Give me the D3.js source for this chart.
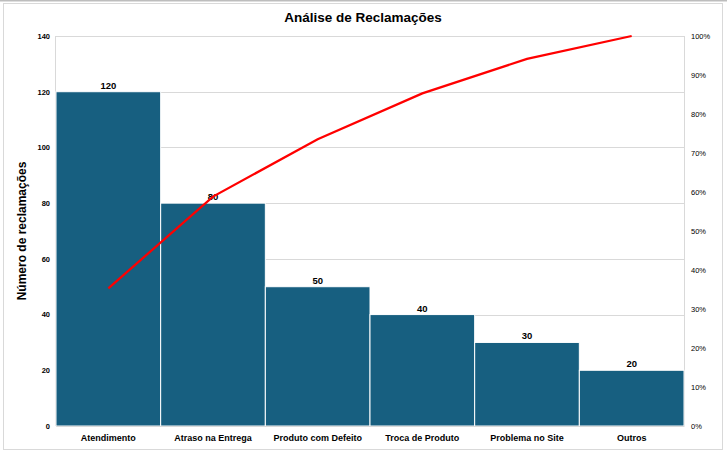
<!DOCTYPE html>
<html>
<head>
<meta charset="utf-8">
<script src="https://cdn.jsdelivr.net/npm/d3@7"></script>
<style>
  body { margin: 0; background: #fff; }
  text { font-family: "Liberation Sans", Arial, sans-serif; fill: #000; }
</style>
</head>
<body>
<div id="chart"></div>
<script>
// dados do gráfico de Pareto
const categories = ['Atendimento', 'Atraso na Entrega', 'Produto com Defeito', 'Troca de Produto', 'Problema no Site', 'Outros'];
const counts = [120, 80, 50, 40, 30, 20];
const leftTicks = [0, 20, 40, 60, 80, 100, 120, 140];
const rightTicks = [0, 0.1, 0.2, 0.3, 0.4, 0.5, 0.6, 0.7, 0.8, 0.9, 1];

const width = 727, height = 455;
const margin = { top: 36, right: 43, bottom: 29, left: 56 };

const total = d3.sum(counts);
const cumulative = d3.cumsum(counts).map(v => v / total);

const svg = d3.select('#chart').append('svg')
              .attr('width', width)
              .attr('height', height);

// moldura
svg.append('rect')
   .attr('x', 3.5).attr('y', 3.5)
   .attr('width', 719).attr('height', 446)
   .attr('fill', 'none').attr('stroke', '#d9d9d9');
svg.append('line')
   .attr('x1', 0).attr('x2', width).attr('y1', 0.5).attr('y2', 0.5)
   .attr('stroke', '#bdbdbd').attr('stroke-width', 2);

const x = d3.scaleBand()
            .domain(categories)
            .range([margin.left, width - margin.right])
            .padding(0);

const y = d3.scaleLinear().domain([0, 140]).range([height - margin.bottom, margin.top]);
const yPct = d3.scaleLinear().domain([0, 1]).range([height - margin.bottom, margin.top]);

// linhas de grade
svg.append('g')
   .selectAll('line')
   .data(leftTicks)
   .enter()
   .append('line')
   .attr('x1', margin.left).attr('x2', width - margin.right)
   .attr('y1', d => Math.round(y(d)) + 0.5).attr('y2', d => Math.round(y(d)) + 0.5)
   .attr('stroke', '#d9d9d9');

svg.append('line')
   .attr('x1', width - margin.right + 0.5).attr('x2', width - margin.right + 0.5)
   .attr('y1', margin.top).attr('y2', height - margin.bottom)
   .attr('stroke', '#d9d9d9');
svg.append('line')
   .attr('x1', margin.left - 0.5).attr('x2', margin.left - 0.5)
   .attr('y1', margin.top).attr('y2', height - margin.bottom)
   .attr('stroke', '#d9d9d9');

// barras
svg.append('g')
   .selectAll('rect')
   .data(counts)
   .enter()
   .append('rect')
   .attr('x', (d, i) => x(categories[i]))
   .attr('y', d => y(d))
   .attr('width', x.bandwidth())
   .attr('height', d => y(0) - y(d))
   .attr('fill', '#175f80')
   .attr('stroke', '#fff')
   .attr('stroke-width', 1);

// rótulos das barras
svg.append('g')
   .selectAll('text')
   .data(counts)
   .enter()
   .append('text')
   .attr('x', (d, i) => x(categories[i]) + x.bandwidth() / 2)
   .attr('y', d => y(d) - 3)
   .attr('text-anchor', 'middle')
   .attr('font-size', 9.5)
   .attr('font-weight', 'bold')
   .text(d => d);

// linha acumulada
const line = d3.line()
               .x((d, i) => x(categories[i]) + x.bandwidth() / 2)
               .y(d => yPct(d));

svg.append('path')
   .datum(cumulative)
   .attr('d', line)
   .attr('fill', 'none')
   .attr('stroke', '#ff0000')
   .attr('stroke-width', 2.25);

// eixo esquerdo
const yAxis = svg.append('g')
                 .attr('transform', 'translate(' + (margin.left - 6) + ',0)')
                 .call(d3.axisLeft(y).tickValues(leftTicks).tickSize(0).tickPadding(0));
yAxis.select('.domain').remove();
yAxis.selectAll('text')
     .attr('font-size', 7.5)
     .attr('font-weight', 'bold')
     .style('font-family', '"Liberation Sans", sans-serif');

// eixo direito
const rAxis = svg.append('g')
                 .attr('transform', 'translate(' + (width - margin.right + 7) + ',0)')
                 .call(d3.axisRight(yPct).tickValues(rightTicks).tickFormat(d3.format('.0%')).tickSize(0).tickPadding(0));
rAxis.select('.domain').remove();
rAxis.selectAll('text')
     .attr('font-size', 7.5)
     .attr('fill', '#000')
     .style('font-family', '"Liberation Sans", sans-serif');

// eixo x
const xAxis = svg.append('g')
                 .attr('transform', 'translate(0,' + (height - margin.bottom) + ')')
                 .call(d3.axisBottom(x).tickSize(0).tickPadding(9));
xAxis.select('.domain').attr('stroke', '#d9d9d9');
xAxis.selectAll('text')
     .attr('font-size', 9)
     .attr('font-weight', 'bold')
     .style('font-family', '"Liberation Sans", sans-serif');

// títulos
svg.append('text')
   .attr('x', 363).attr('y', 22)
   .attr('text-anchor', 'middle')
   .attr('font-size', 13.5)
   .attr('font-weight', 'bold')
   .text('Análise de Reclamações');

svg.append('text')
   .attr('transform', 'translate(26,' + ((margin.top + height - margin.bottom) / 2) + ') rotate(-90)')
   .attr('text-anchor', 'middle')
   .attr('font-size', 12)
   .attr('font-weight', 'bold')
   .text('Número de reclamações');
</script>
</body>
</html>
